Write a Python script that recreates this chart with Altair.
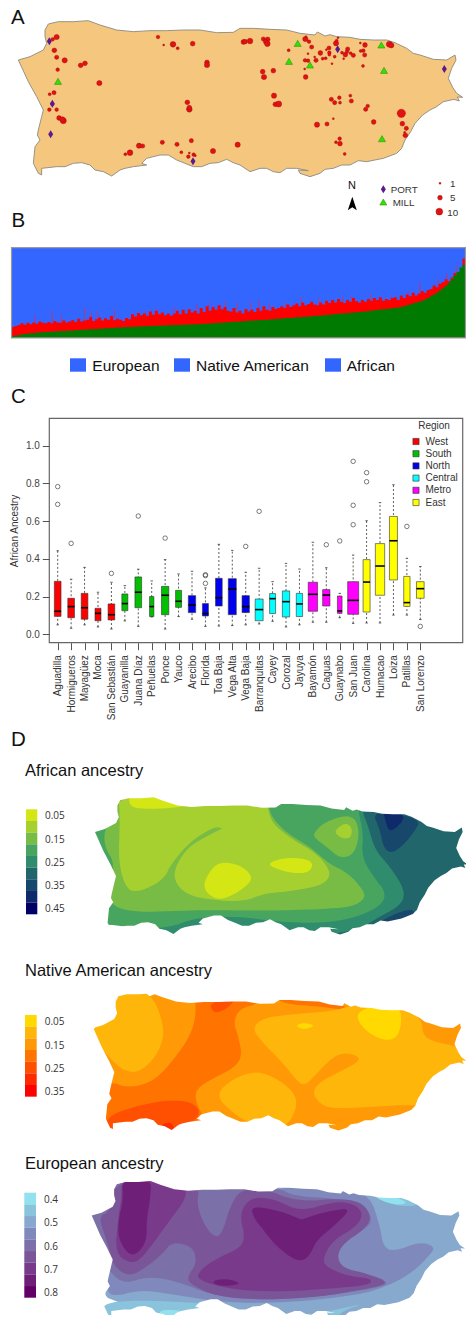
import altair as alt
import pandas as pd

W, H = 458, 1307

# ---------- coast outline (map units = 3x panel-A pixels) ----------
COAST = [(135,90),(145,72),(175,65),(220,65),(265,62),(300,75),(350,90),(400,95),(450,92),(500,92),(550,90),(600,90),
 (650,98),(700,97),(720,85),(760,85),(810,88),(860,90),(900,100),(945,105),(952,96),(960,100),(975,108),(990,104),(1010,110),(1050,112),
 (1080,118),(1120,120),(1160,120),(1185,128),(1220,145),(1240,160),(1260,165),(1300,178),(1340,180),(1365,165),(1368,180),(1355,205),(1345,235),
 (1358,262),(1370,280),(1388,292),(1372,291),(1378,303),(1362,298),(1330,305),(1310,320),(1290,330),(1268,345),(1245,370),(1232,395),(1215,420),(1205,445),(1190,460),
 (1150,475),(1100,485),(1075,482),(1050,495),(1025,495),(1000,505),(975,508),(960,520),(930,530),(900,520),(895,510),(925,512),(890,505),(860,505),(840,518),(820,515),
 (800,505),(780,505),(750,515),(720,495),(700,488),(680,478),(655,488),(630,490),(605,500),(580,500),(555,490),(530,480),(505,465),(480,465),(440,475),(425,490),(440,495),(400,500),
 (375,505),(360,510),(335,528),(310,515),(285,510),(270,495),(245,488),(220,490),(195,500),(170,500),(125,505),(125,525),(115,520),(100,490),(105,440),(120,420),
 (112,405),(115,390),(125,350),(130,330),(110,290),(85,245),(55,180),(90,170),(130,150),(140,130),(135,110)]

# ---------- Panel A ----------
VILLAGES = [(170,111,6),(158,118,3),(163,151,5),(170,172,4),(194,181,6),(173,209,3),(242,196,5),(255,190,5),(298,249,6),(162,278,4),
 (149,283,2),(157,312,3),(170,329,3),(148,329,3),(177,354,5),(190,362,8),(187,358,6),(474,111,3),(491,135,1),(519,133,7),(533,145,2),(578,131,5),
 (621,187,5),(621,195,6),(562,307,5),(568,328,7),(568,323,5),(730,126,5),(735,125,5),(750,123,7),(790,117,4),(803,118,5),(797,125,5),(802,131,7),
 (788,215,5),(792,231,6),(820,212,5),(822,287,6),(826,313,5),(836,312,8),(487,427,4),(531,433,4),(574,422,4),(417,437,6),(428,438,4),(390,458,7),
 (376,463,2),(544,457,2),(565,470,3),(568,459,1),(581,464,3),(586,467,1),(639,453,6),(713,434,6),(866,151,2),(916,117,6),(918,110,1),(927,125,3),
 (935,141,4),(924,161,1),(915,181,3),(924,182,3),(914,207,1),(917,231,5),(948,181,4),(944,171,1),(961,159,5),(968,176,2),(977,175,2),(987,144,4),
 (979,149,1),(988,158,3),(988,164,2),(1004,170,2),(996,191,1),(1008,130,6),(1014,113,1),(1010,122,2),(1031,176,1),(1026,158,2),(1036,164,5),(1043,147,4),
 (1041,155,3),(1052,160,2),(1060,166,4),(1081,129,1),(1095,135,5),(1082,153,2),(1090,152,3),(1094,165,4),(1089,198,2),(1168,133,8),(1174,136,6),
 (994,298,4),(1004,308,4),(1018,293,3),(1020,308,2),(1051,287,2),(1054,303,4),(1103,318,3),(1097,328,4),(1121,366,5),(1204,340,15),(1207,371,5),
 (1219,385,4),(1214,397,1),(1216,406,5),(1000,356,1),(981,372,4),(951,374,6),(1019,416,3),(1008,427,2),(1020,431,5),(1034,462,2),
 (1320,550,1),(1320,593,5),(1318,635,10)]
PORTS = [(148,124),(157,311),(152,403),(579,484),(1013,148),(1333,207),(1150,568)]
MILLS = [(174,244),(893,130),(867,184),(930,195),(1144,135),(1152,211),(1146,416),(1150,606)]

# ---------- Panel B ----------
AFRICAN = [.02,.025,.03,.035,.04,.045,.05,.05,.055,.06,.06,.062,.064,.066,.07,.072,.074,.075,.077,.078,
 .08,.082,.085,.087,.09,.092,.094,.096,.098,.1,.102,.104,.106,.108,.11,.112,.114,.116,.118,.12,
 .121,.122,.124,.125,.127,.128,.13,.131,.133,.134,.135,.136,.137,.138,.14,.141,.142,.144,.145,.146,
 .148,.149,.15,.152,.154,.156,.158,.16,.162,.165,.167,.169,.172,.174,.176,.178,.18,.183,.186,.188,
 .19,.192,.194,.196,.198,.2,.202,.205,.208,.21,.212,.215,.218,.22,.223,.226,.228,.23,.233,.236,
 .238,.241,.244,.247,.25,.253,.256,.259,.262,.265,.268,.27,.273,.276,.279,.282,.285,.288,.292,.296,
 .3,.304,.308,.312,.316,.32,.324,.328,.332,.336,.34,.35,.36,.37,.38,.39,.4,.41,.425,.44,
 .46,.48,.5,.525,.55,.58,.61,.65,.69,.73,.78,.81]
NATIVE_TOP = [.12,.13,.14,.16,.145,.165,.15,.17,.155,.18,.165,.16,.175,.16,.185,.17,.165,.19,.17,.18,
 .195,.175,.21,.18,.19,.2,.23,.185,.205,.225,.19,.215,.2,.24,.195,.21,.2,.185,.22,.205,
 .26,.235,.275,.25,.27,.245,.29,.255,.3,.26,.28,.25,.27,.245,.265,.3,.26,.31,.27,.315,
 .28,.3,.27,.33,.285,.35,.3,.34,.31,.36,.315,.34,.3,.29,.33,.28,.3,.27,.32,.29,
 .31,.285,.33,.3,.35,.31,.3,.34,.32,.33,.35,.33,.37,.34,.36,.38,.35,.39,.36,.375,
 .4,.37,.36,.39,.37,.41,.385,.42,.39,.43,.4,.385,.42,.4,.44,.405,.39,.42,.4,.43,
 .41,.44,.42,.45,.41,.43,.42,.44,.45,.42,.47,.44,.48,.46,.5,.47,.49,.52,.5,.53,
 .54,.58,.56,.6,.62,.65,.63,.67,.72,.7,.74,.88]
SPIKE_POS = [7.8,13.6,16.7,24.4,26.7,28.9,34.4,45,49,54.4,62.2,65.9,71.7,75.6,80,82.8,86.3,91.7,97,102.8,107,111,113.9,120.3,127.2,132.8,136.7,142.8,145.6,148.9]
SPIKE_TOP = [.244,.296,.26,.337,.289,.296,.315,.30,.32,.344,.37,.39,.407,.39,.40,.419,.38,.39,.448,.444,.40,.467,.467,.49,.467,.52,.615,.65,.715,.807]

# ---------- Panel C ----------
TOWNS = ["Aguadilla","Hormigueros","Mayagüez","Moca","San Sebastián","Guayanilla","Juana Díaz","Peñuelas","Ponce","Yauco",
 "Arecibo","Florida","Toa Baja","Vega Alta","Vega Baja","Barranquitas","Cayey","Corozal","Jayuya","Bayamón","Caguas",
 "Guaynabo","San Juan","Carolina","Humacao","Loiza","Patillas","San Lorenzo"]
REGIONS = ["West"]*5+["South"]*5+["North"]*5+["Central"]*4+["Metro"]*4+["East"]*5
W_LOW = [.05,.032,.05,.039,.028,.071,.042,.092,.028,.094,.08,.042,.044,.046,.05,.055,.069,.039,.05,.064,.064,.088,.058,.06,.06,.102,.102,.078]
Q1 = [.095,.088,.08,.072,.076,.125,.141,.094,.104,.143,.115,.097,.15,.104,.115,.072,.11,.092,.094,.122,.15,.111,.106,.118,.207,.288,.148,.191]
MED = [.122,.147,.141,.111,.104,.163,.223,.147,.207,.175,.155,.11,.194,.24,.147,.131,.189,.173,.161,.212,.208,.124,.18,.277,.362,.496,.168,.242]
Q3 = [.281,.191,.217,.138,.161,.214,.304,.2,.254,.233,.205,.163,.297,.295,.205,.187,.216,.23,.217,.276,.237,.203,.279,.396,.481,.625,.307,.279]
W_HIGH = [.443,.292,.355,.223,.276,.258,.345,.283,.396,.32,.334,.246,.477,.445,.329,.35,.279,.376,.346,.488,.353,.217,.42,.602,.698,.793,.403,.359]
BOX_N = [20,20,20,18,20,18,20,13,22,18,22,18,20,24,22,24,18,22,19,28,22,14,33,21,28,24,19,23]
OUTLIER_I = [0,0,1,4,6,8,11,11,11,14,15,20,21,22,22,22,23,23,26,27]
OUTLIER_V = [.689,.783,.482,.323,.627,.51,.27,.311,.316,.466,.652,.475,.495,.581,.684,.917,.809,.857,.572,.042]
REGION_NAMES = ["West","South","North","Central","Metro","East"]
REGION_COLORS = ["#ff0000","#00c000","#0000ee","#00ffff","#ff00ff","#ffff00"]

# ---------- Panel D: contour bands in 3x-zoom map units, painted in order ----------
AFR_BANDS = [
 ("#21666b",[(250,200),(1430,200),(1430,660),(250,660)]),
 ("#17476b",[(1115,270),(1265,295),(1240,340),(1200,385),(1170,400),(1150,380),(1140,330)]),
 ("#0e2a6b",[(1150,265),(1225,285),(1170,342),(1155,300)]),
 ("#17476b",[(1030,650),(1130,610),(1210,570),(1250,570),(1230,640)]),
 ("#2f8c6c",[(250,200),(1085,200),(1085,270),(1105,320),(1125,390),(1170,440),(1215,510),(1205,555),(1130,595),(1040,650),(250,650)]),
 ("#48a560",[(250,200),(1075,200),(1075,275),(1090,340),(1085,410),(1120,470),(1160,520),(1140,560),(1060,595),(960,610),(830,605),(720,590),(600,590),(500,625),(400,625),(330,612),(250,620)]),
 ("#78bb45",[(810,210),(805,280),(860,340),(930,380),(985,430),(1045,460),(1090,510),(1095,535),(1060,560),(960,568),(800,572),(600,570),(480,575),(400,575),(340,560),(325,520),(345,430),(315,385),(312,330),(340,300),(345,210)]),
 ("#78bb45",[(940,340),(975,305),(1040,285),(1070,300),(1078,350),(1060,405),(1020,415),(985,385),(945,355)]),
 ("#a6d030",[(355,215),(800,215),(800,250),(815,310),(880,360),(950,400),(990,450),(985,480),(950,500),(860,515),(795,520),(730,545),(640,540),(560,525),(520,480),(530,430),(570,375),(672,322),(672,328),(645,318),(570,365),(515,430),(490,480),(420,515),(380,510),(355,430),(360,300)]),
 ("#a6d030",[(1005,330),(1035,308),(1055,320),(1055,350),(1035,358),(1010,345)]),
 ("#d4e614",[(385,225),(470,225),(600,250),(520,264),(430,267),(390,260)]),
 ("#d4e614",[(610,490),(635,445),(665,425),(720,435),(755,465),(750,490),(700,525),(655,540),(620,520)]),
 ("#d4e614",[(800,430),(860,412),(925,418),(940,435),(925,458),(880,460),(830,447)]),
]
NAT_BANDS = [
 ("#ff9a06",[(250,100),(1430,100),(1430,570),(250,570)]),
 ("#ff7300",[(580,110),(590,190),(570,260),(520,330),(470,385),(420,408),(370,410),(335,395),(280,420),(280,565),(650,565),(610,500),(585,450),(590,415),(640,385),(700,355),(727,320),(715,260),(700,215),(720,175),(780,160),(740,120)]),
 ("#ff7300",[(825,135),(1040,165),(1030,180),(950,168),(850,162)]),
 ("#ff4f00",[(320,500),(400,470),(500,450),(575,455),(605,490),(560,530),(500,560),(310,560)]),
 ("#ff4f00",[(630,160),(715,130),(690,170),(650,190),(635,180)]),
 ("#ff2a00",[(480,525),(510,515),(525,535),(500,555)]),
 ("#ffb60a",[(340,110),(450,120),(495,230),(480,300),(440,350),(400,370),(350,350),(260,240),(340,200)]),
 ("#ffb60a",[(755,235),(790,205),(850,195),(1000,183),(1060,165),(1200,165),(1265,205),(1268,255),(1300,275),(1375,290),(1420,310),(1420,480),(1235,463),(1130,470),(1020,475),(970,470),(935,430),(960,395),(1020,365),(1085,330),(1060,312),(1020,310),(990,330),(950,370),(915,408),(890,392),(850,340),(790,280)]),
 ("#ffb60a",[(645,435),(700,385),(770,363),(830,385),(880,425),(893,465),(865,525),(820,535),(760,525),(700,490)]),
 ("#ffd900",[(1075,185),(1125,165),(1200,170),(1205,220),(1190,265),(1150,272),(1100,245),(1072,210)]),
 ("#ffd900",[(888,226),(910,218),(945,225),(925,236),(900,236)]),
]
EUR_BANDS = [
 ("#87a9cd",[(250,100),(1430,100),(1430,560),(250,560)]),
 ("#8ac4dc",[(300,490),(420,480),(560,487),(620,490),(700,520),(860,545),(1000,545),(1030,510),(1100,490),(1000,510),(860,540),(300,550)]),
 ("#8ac4dc",[(1115,170),(1150,150),(1260,185),(1240,200),(1180,195)]),
 ("#91e1ee",[(470,510),(540,510),(560,520),(500,545)]),
 ("#91e1ee",[(1120,170),(1160,160),(1230,190),(1180,195)]),
 ("#8089bb",[(260,110),(820,110),(820,150),(880,140),(960,150),(1035,155),(1110,165),(1140,260),(1150,320),(1180,335),(1260,305),(1305,320),(1290,345),(1240,395),(1180,430),(1100,460),(950,480),(800,490),(650,485),(500,460),(420,450),(340,470),(320,450),(330,420),(260,420)]),
 ("#7c70a8",[(260,110),(830,140),(880,168),(1000,175),(1090,190),(1120,240),(1090,270),(1030,310),(980,370),(1040,390),(1110,410),(1175,430),(1100,450),(950,470),(800,480),(650,470),(520,420),(440,410),(380,430),(340,410),(260,300)]),
 ("#7a5598",[(295,230),(330,215),(345,115),(600,135),(590,190),(610,250),(640,290),(665,285),(690,200),(720,150),(790,145),(890,185),(1030,175),(1090,190),(1115,235),(1090,270),(1030,310),(1010,350),(1030,385),(1100,400),(1175,430),(1080,450),(960,470),(800,480),(650,470),(565,430),(565,405),(590,370),(580,320),(515,305),(490,340),(440,380),(390,410),(340,380),(320,300)]),
 ("#7a3a8c",[(735,190),(770,170),(830,180),(900,215),(1000,185),(1060,190),(1090,220),(1070,260),(1000,300),(970,350),(975,380),(1050,410),(1115,415),(1110,435),(1000,445),(850,455),(700,450),(590,420),(600,390),(650,355),(720,325),(735,290),(720,230)]),
 ("#7a3a8c",[(365,115),(455,115),(560,140),(555,180),(510,240),(460,310),(420,360),(390,370),(345,340),(355,230),(365,170)]),
 ("#6e2079",[(365,115),(455,115),(450,180),(440,240),(440,310),(395,355),(355,300),(355,240),(370,180)]),
 ("#6e2079",[(752,198),(830,210),(890,232),(905,240),(920,232),(1000,210),(1055,205),(1000,260),(950,300),(925,355),(890,365),(830,320),(790,270),(762,235)]),
 ("#6e2079",[(635,423),(680,415),(725,430),(690,438),(650,436)]),
]
AFR_SW = ["#d4e614","#a6d030","#78bb45","#48a560","#2f8c6c","#21666b","#17476b","#0e2a6b","#000066"]
NAT_SW = ["#ffd900","#ffb60a","#ff9a06","#ff7300","#ff4f00","#ff2a00","#ff0000"]
EUR_SW = ["#91e1ee","#8ac4dc","#87a9cd","#8089bb","#7c70a8","#7a5598","#7a3a8c","#6e2079","#620066"]

# ---------- helpers ----------
PX_X = alt.Scale(domain=[8,8+W], nice=False, zero=False)
PX_Y = alt.Scale(domain=[8+H,8], nice=False, zero=False)
def X(f="x"): return alt.X(f"{f}:Q", scale=PX_X, axis=None)
def Y(f="y"): return alt.Y(f"{f}:Q", scale=PX_Y, axis=None)
PROJ = dict(type="identity", scale=1, translate=[-8,-8])

def area(r):
    return sum(r[i][0]*r[(i+1)%len(r)][1]-r[(i+1)%len(r)][0]*r[i][1] for i in range(len(r)))
def ring(pts):
    r=[list(p) for p in pts]
    return r+[r[0]]
def rounded(pts,k=2):
    # corner cutting, so that contour outlines render as curves
    for _ in range(k):
        out=[]
        for i,(x,y) in enumerate(pts):
            u,v=pts[(i+1)%len(pts)]
            out+= [(.75*x+.25*u,.75*y+.25*v),(.25*x+.75*u,.25*y+.75*v)]
        pts=out
    return pts
def feat(color,rings):
    return {"type":"Feature","geometry":{"type":"Polygon","coordinates":rings},"properties":{"c":color}}
def shapes(features,**kw):
    return alt.Chart(alt.Data(values=features)).mark_geoshape(strokeWidth=0,**kw).encode(
        color=alt.Color("properties.c:N",scale=None)).project(**PROJ)

def coast_tf(tx,ty,sx=.84,sy=.88):
    return [((x-55)*sx/3+tx,(y-62)*sy/3+ty) for x,y in COAST]

def map_panel(bands,yoff,tx,ty):
    coast=coast_tf(tx,ty)
    feats=[feat(c,[ring([(x/3,y/3+yoff) for x,y in rounded(pts)])]) for c,pts in bands]
    xs=[p[0] for p in coast]; ys=[p[1] for p in coast]
    x0,x1,y0,y1=min(xs)-14,max(xs)+14,min(ys)-14,max(ys)+14
    outer=[(x0,y0),(x1,y0),(x1,y1),(x0,y1)]
    hole=list(coast)
    if area(outer)*area(hole)>0: hole=hole[::-1]
    feats.append(feat("#ffffff",[ring(outer),ring(hole)]))
    return shapes(feats)

def swatches(colors,x0,x1,ytop):
    df=pd.DataFrame({"x":x0,"x2":x1,"y":[ytop+i*35/3 for i in range(len(colors))],
                     "y2":[ytop+(i+1)*35/3 for i in range(len(colors))],"c":colors})
    return alt.Chart(df).mark_rect(strokeWidth=0).encode(x=X(),x2="x2:Q",y=Y(),y2="y2:Q",color=alt.Color("c:N",scale=None))

def texts(items,size,font="Liberation Sans",color="#111111",angle=None,align="left"):
    df=pd.DataFrame(items,columns=["t","x","y"])
    kw=dict(angle=angle) if angle is not None else {}
    return alt.Chart(df).mark_text(fontSize=size,font=font,color=color,align=align,baseline="alphabetic",**kw).encode(
        x=X(),y=Y(),text="t:N")

# ---------- Panel A ----------
A_scale=[(x/3,y/3) for x,y in COAST]
map_a=shapes([feat("#f5c77e",[ring(A_scale)])]).mark_geoshape(stroke="#8a8a80",strokeWidth=.9)
vdf=pd.DataFrame(VILLAGES,columns=["x","y","n"]); vdf[["x","y"]]/=3
circles=alt.Chart(vdf).mark_circle(color="#e21212",opacity=1,stroke="#a00808",strokeWidth=.4).encode(
    x=X(),y=Y(),size=alt.Size("n:Q",scale=alt.Scale(domain=[1,10],range=[4,46],zero=False),legend=None))
pdf=pd.DataFrame(PORTS,columns=["x","y"])/3
ports=alt.Chart(pdf).mark_point(filled=True,opacity=1,shape="M0,-1L0.62,0L0,1L-0.62,0Z",size=64,color="#5b1a8e").encode(x=X(),y=Y())
mdf=pd.DataFrame(MILLS,columns=["x","y"])/3
mills=alt.Chart(mdf).mark_point(filled=True,opacity=1,shape="triangle-up",size=50,fill="#33e000",stroke="#1f8a00",strokeWidth=.5).encode(x=X(),y=Y())
arrow=alt.Chart(pd.DataFrame({"x":[352.3],"y":[203.5]})).mark_point(filled=True,opacity=1,shape="M0,-1L0.67,1L0,0.55L-0.67,1Z",size=180,color="#000000").encode(x=X(),y=Y())

# ---------- Panel B ----------
BK=(465.5-11.5)/152
bx=alt.Scale(domain=[(8-11.5)/BK,(8+W-11.5)/BK],nice=False,zero=False)
by=alt.Scale(domain=[(337.7-8-H)/90,(337.7-8)/90],nice=False,zero=False)
bdf=pd.DataFrame({"i":list(range(153)),"af":AFRICAN+[AFRICAN[-1]],"na":NATIVE_TOP+[NATIVE_TOP[-1]],"base":0.0,"one":1.0})
B_X=alt.X("i:Q",scale=bx,axis=None)
blue=alt.Chart(bdf.iloc[[0]].assign(i2=152)).mark_rect(color="#3366ff").encode(x=B_X,x2="i2:Q",y=alt.Y("base:Q",scale=by,axis=None),y2="one:Q")
spk=alt.Chart(pd.DataFrame({"i":SPIKE_POS,"t":SPIKE_TOP,"base":0.0})).mark_rule(color="#b03a80",strokeWidth=1).encode(x=B_X,y=alt.Y("t:Q",scale=by,axis=None),y2="base:Q")
red=alt.Chart(bdf).mark_area(color="#ff0000",interpolate="step-after").encode(x=B_X,y=alt.Y("na:Q",scale=by,axis=None),y2="base:Q")
green=alt.Chart(bdf).mark_area(color="#007a00",interpolate="step-after").encode(x=B_X,y=alt.Y("af:Q",scale=by,axis=None),y2="base:Q")
panel_b=alt.layer(blue,spk,red,green)

# ---------- Panel C ----------
cx=alt.Scale(domain=[(8-57.7)/13.43,(8+W-57.7)/13.43],nice=False,zero=False)
cy=alt.Scale(domain=[(634.3-8-H)/188.6,(634.3-8)/188.6],nice=False,zero=False)
n=len(TOWNS)
cdf=pd.DataFrame({"i":range(n),"town":TOWNS,"region":REGIONS,"lo":W_LOW,"q1":Q1,"med":MED,"q3":Q3,"hi":W_HIGH})
cdf["a"]=[i-w/80.6 for i,w in zip(cdf.i,BOX_N)]
cdf["b"]=[i+w/80.6 for i,w in zip(cdf.i,BOX_N)]
cdf["c1"]=cdf.i-.09; cdf["c2"]=cdf.i+.09
label_expr="["+",".join(f"'{t}'" for t in TOWNS)+"][datum.value]"
axis_x=alt.Axis(values=list(range(n)),labelExpr=label_expr,labelAngle=270,labelAlign="right",labelBaseline="middle",
    labelFont="Liberation Sans",labelFontSize=10,labelColor="#333333",tickColor="#555555",tickSize=7,domain=False,grid=False,
    title=None,offset=634.7-H,labelPadding=5,labelOverlap=False,labelBound=False,labelFlush=False,zindex=1)
axis_y=alt.Axis(values=[0,.2,.4,.6,.8,1.0],format=".1f",labelFont="Liberation Sans",labelFontSize=10,labelColor="#444444",
    tickColor="#555555",tickSize=7,domain=False,grid=False,title=None,offset=-41.3,labelPadding=3,labelOverlap=False,zindex=1)
C_N=alt.X("i:Q",scale=cx,axis=None)
axes_unit=alt.Chart(cdf).mark_rule(opacity=0).encode(x=alt.X("i:Q",scale=cx,axis=axis_x),y=alt.Y("lo:Q",scale=cy,axis=axis_y))
whisk=alt.Chart(cdf).mark_rule(color="#333333",strokeWidth=.8,strokeDash=[2,2]).encode(x=C_N,y=alt.Y("lo:Q",scale=cy,axis=None),y2="hi:Q")
cap_lo=alt.Chart(cdf).mark_rule(color="#333333",strokeWidth=.8).encode(x=alt.X("c1:Q",scale=cx,axis=None),x2="c2:Q",y=alt.Y("lo:Q",scale=cy,axis=None))
cap_hi=alt.Chart(cdf).mark_rule(color="#333333",strokeWidth=.8).encode(x=alt.X("c1:Q",scale=cx,axis=None),x2="c2:Q",y=alt.Y("hi:Q",scale=cy,axis=None))
boxes=alt.Chart(cdf).mark_rect(stroke="#333333",strokeWidth=.6).encode(
    x=alt.X("a:Q",scale=cx,axis=None),x2="b:Q",y=alt.Y("q1:Q",scale=cy,axis=None),y2="q3:Q",
    color=alt.Color("region:N",scale=alt.Scale(domain=REGION_NAMES,range=REGION_COLORS),
        legend=alt.Legend(orient="none",legendX=403,legendY=412.5,title="Region",titleFontWeight="normal",titleFont="Liberation Sans",
            titleFontSize=10,titleColor="#333333",titleAnchor="middle",labelFont="Liberation Sans",labelFontSize=10,labelColor="#333333",symbolType="square",symbolSize=38,
            symbolStrokeColor="#333333",symbolStrokeWidth=.6,rowPadding=2.2,titlePadding=6,labelOffset=4.5,padding=0)))
meds=alt.Chart(cdf).mark_rule(color="#000000",strokeWidth=1.6).encode(x=alt.X("a:Q",scale=cx,axis=None),x2="b:Q",y=alt.Y("med:Q",scale=cy,axis=None))
outs=alt.Chart(pd.DataFrame({"i":OUTLIER_I,"v":OUTLIER_V})).mark_point(size=20,color="#444444",strokeWidth=.7,opacity=1).encode(x=C_N,y=alt.Y("v:Q",scale=cy,axis=None))
panel_c=alt.layer(whisk,cap_lo,cap_hi,boxes,meds,outs)

# ---------- frames ----------
frames_df=pd.DataFrame({"x":[11.5,49.3],"x2":[465.5,462.7],"y":[247.7,418.3],"y2":[337.9,642.7],"c":["#999999","#666666"]})
frames=alt.Chart(frames_df).mark_rect(fillOpacity=0,strokeWidth=1.2).encode(x=X(),x2="x2:Q",y=Y(),y2="y2:Q",stroke=alt.Stroke("c:N",scale=None))
b_keys=pd.DataFrame({"x":[70,174,325],"x2":[86,190,341],"y":[358.3]*3,"y2":[371.7]*3})
keys=alt.Chart(b_keys).mark_rect(color="#3366ff").encode(x=X(),x2="x2:Q",y=Y(),y2="y2:Q")

geo=alt.layer(
    map_a,
    map_panel(AFR_BANDS,720,95,797.3),
    map_panel(NAT_BANDS,950,93.3,993.3),
    map_panel(EUR_BANDS,1140,91.7,1181),
)
pts=alt.layer(circles,ports,mills,arrow)
over=alt.layer(
    swatches(AFR_SW,26,37.3,809.3),swatches(NAT_SW,25,36.7,1015),swatches(EUR_SW,24.3,36,1192.7),
    frames,keys,
    texts([("A",11,23.5),("B",11.5,226.7),("C",11,403),("D",11,746)],20.5),
    texts([("PORT",390.7,193.3),("MILL",392.7,206),("1",450,186.7),("5",450,201),("10",447.3,215.7)],9.8,color="#333333"),
    texts([("N",348,189.3)],11),
    texts([("European",92.3,370.7),("Native American",196,370.7),("African",346.7,370.7)],15.5),
    texts([("African ancestry",25,776),("Native American ancestry",25,976),("European ancestry",25,1169)],16.5),
    texts([("0.05",45,819),("0.15",45,842.5),("0.25",45,865.5),("0.35",45,889),("0.45",45,912),
           ("0.05",44.7,1025),("0.15",44.7,1048.5),("0.25",44.7,1072),("0.35",44.7,1095),
           ("0.4",44,1203),("0.5",44,1226),("0.6",44,1249.5),("0.7",44,1272.5),("0.8",44,1295.5)],10,font="Open Sans",color="#333333"),
    texts([("African Ancestry",17.5,531)],10,color="#333333",angle=270,align="center"),
)

chart=alt.layer(geo,pts,panel_b,panel_c,axes_unit,over).resolve_scale(x="independent",y="independent",color="independent",size="independent",stroke="independent").properties(
    width=W,height=H,padding=0,autosize=alt.AutoSizeParams(type="none")
).configure_view(stroke=None)
chart.save("out.html",embed_options={"renderer":"svg","actions":False})
